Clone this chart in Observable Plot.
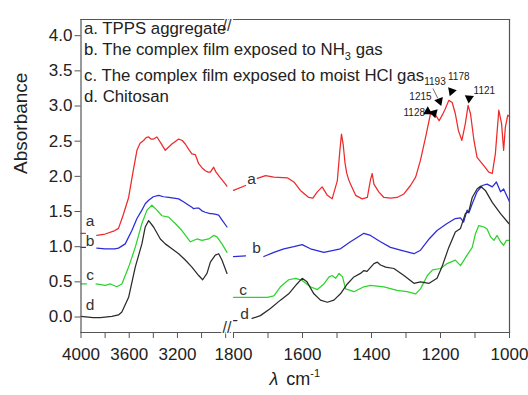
<!DOCTYPE html>
<html><head><meta charset="utf-8">
<script src="https://cdn.jsdelivr.net/npm/d3@7"></script>
<script src="https://cdn.jsdelivr.net/npm/@observablehq/plot@0.6"></script>
<style>body{margin:0;background:#fff} #chart{position:relative;width:528px;height:395px} #chart svg{position:absolute;top:0;overflow:visible;max-width:none}</style>
</head><body><div id="chart"></div>
<script>
// ---- data (wavenumber cm-1, absorbance); null = break in the trace ----
const aWave = [4000,3963,3930,3869,3800,3730,3689,3650,3605,3570,3536,3510,3481,3460,3439,3420,3398,3370,3340,3301,3270,3246,3215,3190,3160,3135,3105,3080,3052,3024,2995,2969,2945,2927,2900,2880,2858,2830,2802,2790,
  1800,1765,1750,1731,1707,1683,1644,1625,1606,1582,1570,1557,1543,1528,1514,1499,1492,1487,1482,1477,1472,1466,1461,1446,1427,1412,1403,1398,1393,1379,1364,1345,1326,1306,1287,1272,1258,1243,1229,1214,1204,1195,1186,1176,1166,1157,1148,1138,1128,1120,1113,1103,1094,1074,1060,1050,1041,1031,1023,1017,1012,1005,1000];
const aAbs  = [1.19,1.19,null,1.16,1.18,1.22,1.26,1.45,1.70,2.05,2.37,2.47,2.51,2.55,2.56,2.53,2.53,2.56,2.48,2.37,2.42,2.46,2.50,2.53,2.51,2.46,2.38,2.32,2.31,2.18,2.12,2.08,2.06,2.06,2.13,2.06,2.01,1.95,1.89,1.86,
  1.80,1.87,null,1.97,2.01,1.99,1.98,1.92,1.80,1.70,1.69,1.78,1.85,1.73,1.68,1.94,2.35,2.60,2.45,2.20,2.05,1.95,1.89,1.73,1.68,1.70,1.95,2.04,1.89,1.78,1.70,1.69,1.70,1.75,1.87,1.99,2.23,2.56,2.89,2.87,2.79,2.87,2.96,3.08,3.05,2.89,2.65,2.51,2.75,3.01,2.89,2.51,2.27,2.15,2.06,2.04,2.32,2.94,2.75,2.37,2.70,2.87,2.85];

const bWave = [4000,3963,3930,3869,3800,3720,3689,3633,3578,3536,3495,3467,3439,3400,3356,3315,3273,3230,3190,3150,3107,3080,3066,3040,3024,2997,2969,2930,2914,2880,2858,2831,2789,
  1800,1765,1740,1712,1683,1654,1625,1601,1577,1538,1490,1461,1422,1403,1374,1345,1316,1277,1258,1233,1210,1181,1157,1142,1133,1123,1118,1108,1094,1079,1065,1050,1038,1026,1017,1002,1000];
const bAbs  = [0.99,0.99,null,0.98,0.97,0.97,0.98,1.04,1.23,1.40,1.52,1.61,1.66,1.71,1.73,1.71,1.70,1.69,1.68,1.64,1.59,1.56,1.54,1.55,1.55,1.51,1.49,1.47,1.47,1.46,1.45,1.38,1.28,
  0.86,0.87,null,0.86,0.92,0.97,1.00,1.03,0.97,0.92,0.97,1.07,1.19,1.16,1.07,0.99,0.95,0.90,0.95,1.11,1.23,1.33,1.40,1.41,1.35,1.52,1.48,1.61,1.78,1.87,1.89,1.85,1.92,1.78,1.82,1.66,1.64];

const cWave = [4000,3955,3920,3875,3799,3755,3703,3661,3605,3550,3495,3453,3412,3370,3329,3273,3218,3163,3093,3038,2997,2941,2900,2872,2831,2789,
  1800,1751,1702,1683,1664,1640,1620,1601,1577,1557,1538,1523,1514,1504,1494,1484,1475,1451,1422,1403,1364,1326,1297,1272,1258,1238,1223,1200,1181,1157,1142,1123,1108,1099,1089,1074,1065,1055,1045,1036,1026,1017,1009,1000];
const cAbs  = [0.47,0.47,null,0.47,0.45,0.47,0.43,0.47,0.71,0.99,1.33,1.52,1.59,1.52,1.44,1.42,1.33,1.23,1.07,1.11,1.09,1.11,1.16,1.14,1.04,0.92,
  0.28,0.28,0.28,0.30,0.43,0.53,0.55,0.52,0.43,0.39,0.47,0.57,0.59,0.55,0.62,0.57,0.40,0.36,0.43,0.45,0.43,0.38,0.36,0.33,0.40,0.59,0.67,0.69,0.76,0.81,0.73,0.88,0.99,1.18,1.30,1.28,1.25,1.14,1.09,1.16,1.07,1.02,1.09,1.09];

const dWave = [4000,3900,3840,3744,3689,3661,3605,3550,3495,3467,3439,3398,3342,3301,3246,3190,3135,3080,3024,2991,2955,2927,2886,2858,2831,2789,
  1800,1790,1770,1746,1722,1693,1664,1640,1616,1601,1587,1567,1548,1528,1509,1490,1470,1451,1432,1422,1413,1393,1383,1374,1359,1335,1306,1277,1258,1233,1210,1196,1176,1157,1142,1128,1118,1108,1094,1084,1070,1050,1026,1002,1000];
const dAbs  = [0.01,-0.01,-0.01,0.01,0.03,0.07,0.28,0.71,1.04,1.28,1.37,1.28,1.11,1.04,0.97,0.90,0.81,0.71,0.59,0.53,0.62,0.78,0.88,0.90,0.81,0.62,
  -0.05,-0.05,null,-0.02,0.02,0.12,0.24,0.33,0.47,0.55,0.50,0.33,0.24,0.21,0.24,0.33,0.47,0.57,0.62,0.66,0.65,0.76,0.78,0.74,0.71,0.69,0.59,0.48,0.50,0.48,0.55,0.71,0.99,1.21,1.26,1.47,1.50,1.70,1.82,1.86,1.80,1.63,1.47,1.33,1.32];

const seriesNames  = ["a","b","c","d"];
const seriesColors = ["#ee2a2a","#2b2bdb","#2cd42c","#2b2b2b"];
const legendLines  = ["a. TPPS aggregate","b. The complex film exposed to NH3 gas","c. The complex film exposed to moist HCl gas","d. Chitosan"];
const legendAbs    = [4.10, 3.80, 3.43, 3.14];

// in-plot curve letters
const letterText = ["a","b","c","d","a","b","c","d"];
const letterWave = [3925,3925,3925,3925,1748,1733,1772,1768];
const letterAbs  = [1.36,1.08,0.59,0.17,1.96,0.98,0.39,0.04];

// peak annotations
const peakText = ["1128","1215","1193","1178","1121"];
const peakTextWave = [1276,1258,1216,1147,1073];
const peakTextAbs  = [2.91,3.13,3.34,3.41,3.22];
const arrowWave = [1237,1219,1203,1168,1117];
const arrowAbs  = [2.92,2.90,3.07,3.21,3.11];
const arrowTurn = [120,165,160,200,185];

const xMajorLeft  = [4000,3600,3200];
const xMinorLeft  = [3800,3400,3000,2800];
const xMajorRight = [1800,1600,1400,1200,1000];
const xMinorRight = [1700,1500,1300,1100];
const yTicks = [0,0.5,1,1.5,2,2.5,3,3.5,4];
const leftDomain  = [4000, 2760];
const rightDomain = [1800, 1000];

// ---- layout ----
const W = 528, H = 395, mT = 19, mB = 63;
const splitX = 232;              // where the two panels meet
const font = "'Liberation Sans', Arial, Helvetica, sans-serif";
const yDomain = [-0.22, 4.23];
const baseStyle = {fontFamily: font, fontSize: "17px", color: "#222", background: "transparent", overflow: "visible"};

const waves = [aWave,bWave,cWave,dWave], abss = [aAbs,bAbs,cAbs,dAbs];
const rows = seriesNames.map((s,k) => waves[k].map((w,i) => ({s, w, v: abss[k][i]})));
const lines = (keep) => rows.map((r,k) => Plot.line(r.filter(d => keep(d.w)), {x:"w", y:"v", stroke: seriesColors[k], strokeWidth: 1.25}));
const idx = (arr, keep) => arr.map((d,i)=>i).filter(i => keep(letterWave[i]));

const isLeft = w => w >= 2700, isRight = w => w <= 1850;
const frameStyle = {stroke: "#555", strokeWidth: 1.2};
const brk = (anchor) => Plot.text(["//"], {frameAnchor: anchor, text: d=>d, dx: 1, fontSize: 16, fill: "#333", stroke: "#fff", strokeWidth: 2.5, paintOrder: "stroke"});

const left = Plot.plot({
  width: splitX, height: H,
  marginLeft: 80.5, marginRight: 2, marginTop: mT, marginBottom: mB,
  style: baseStyle,
  x: {domain: leftDomain},
  y: {domain: yDomain},
  marks: [
    ...lines(isLeft),
    Plot.text(idx(letterText, isLeft), {x: i=>letterWave[i], y: i=>letterAbs[i], text: i=>letterText[i], fill: "#333", fontSize: 15.5}),
    Plot.frame({...frameStyle, anchor: "left"}),
    Plot.frame({...frameStyle, anchor: "top"}),
    Plot.frame({...frameStyle, anchor: "bottom"}),
    Plot.axisX(xMajorLeft, {tickSize: 6, tickPadding: 9, tickFormat: d => String(d), label: null, fontSize: 17, stroke: "#555", fill: "#222"}),
    Plot.axisX(xMinorLeft, {tickSize: 6, tickFormat: () => "", label: null, stroke: "#555"}),
    Plot.axisY(yTicks, {tickSize: 6, tickPadding: 2.5, tickFormat: d => d.toFixed(1), label: null, fontSize: 17, stroke: "#555", fill: "#222"}),
    Plot.text(["Absorbance"], {frameAnchor: "left", rotate: -90, dx: -60, dy: -2, fontSize: 19, fill: "#222"}),
    brk("bottom-right"),
    brk("top-right"),
    Plot.text(legendLines, {frameAnchor: "left", y: (d,i)=>legendAbs[i], text: d=>d, textAnchor: "start", dx: 3, fill: "#222", fontSize: 16.8})
  ]
});

const right = Plot.plot({
  width: W - splitX, height: H,
  marginLeft: 1, marginRight: 19, marginTop: mT, marginBottom: mB,
  style: baseStyle,
  x: {domain: rightDomain},
  y: {domain: yDomain, axis: null},
  marks: [
    ...lines(isRight),
    Plot.text(idx(letterText, isRight), {x: i=>letterWave[i], y: i=>letterAbs[i], text: i=>letterText[i], fill: "#333", fontSize: 15.5}),
    Plot.link([0], {x1: 1222, y1: 3.25, x2: 1208, y2: 3.11, stroke: "#333", strokeWidth: 0.7}),
    Plot.text(peakText, {x: (d,i)=>peakTextWave[i], y: (d,i)=>peakTextAbs[i], text: d=>d, fontSize: 10, fill: "#222"}),
    Plot.dot(peakText, {x: (d,i)=>arrowWave[i], y: (d,i)=>arrowAbs[i], symbol: "triangle", r: 3.4, fill: "#000", rotate: (d,i)=>arrowTurn[i]}),
    Plot.frame({...frameStyle, anchor: "right"}),
    Plot.frame({...frameStyle, anchor: "top"}),
    Plot.frame({...frameStyle, anchor: "bottom"}),
    Plot.axisX(xMajorRight, {tickSize: 6, tickPadding: 9, tickFormat: d => String(d), label: null, fontSize: 17, stroke: "#555", fill: "#222"}),
    Plot.axisX(xMinorRight, {tickSize: 6, tickFormat: () => "", label: null, stroke: "#555"})
  ]
});

// subscript in NH3
d3.select(left).selectAll("text").each(function() {
  if (this.textContent === legendLines[1]) {
    const t = d3.select(this);
    t.text(null);
    t.append("tspan").text("b. The complex film exposed to NH");
    t.append("tspan").attr("font-size", 11).attr("dy", 5).text("3");
    t.append("tspan").attr("dy", -5).text(" gas");
  }
});

// x-axis title with superscript (centred under the whole frame)
const xt = d3.select(right).append("text")
  .attr("x", (80.5 + W - 19) / 2 - splitX).attr("y", 385)
  .attr("text-anchor", "middle").attr("font-size", 18).attr("fill", "#222");
xt.append("tspan").attr("font-style", "italic").text("λ");
xt.append("tspan").attr("dx", 8).text("cm");
xt.append("tspan").attr("font-size", 11).attr("dy", -8).text("-1");

right.style.left = splitX + "px";
left.style.left = "0px";
const host = document.getElementById("chart");
host.appendChild(right);
host.appendChild(left);
</script>
</body></html>
